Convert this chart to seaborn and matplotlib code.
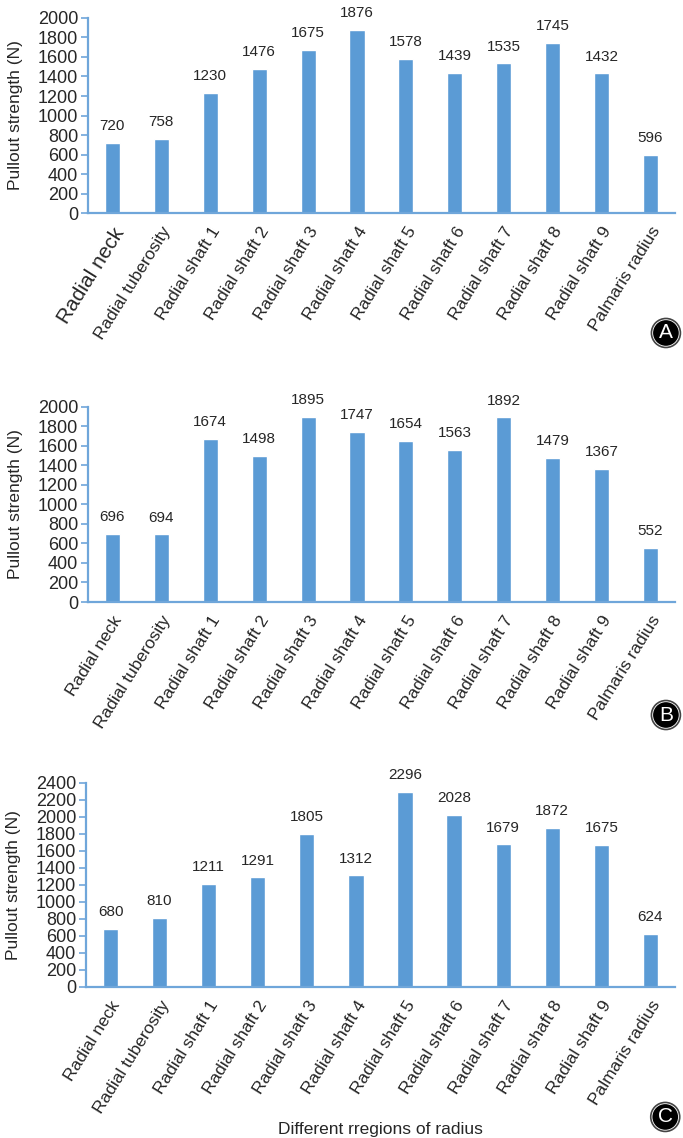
import matplotlib
matplotlib.use("Agg")
import matplotlib.pyplot as plt
import seaborn as sns
import pandas as pd

# ===== DATA =====
regions = ["Radial neck", "Radial tuberosity", "Radial shaft 1", "Radial shaft 2",
           "Radial shaft 3", "Radial shaft 4", "Radial shaft 5", "Radial shaft 6",
           "Radial shaft 7", "Radial shaft 8", "Radial shaft 9", "Palmaris radius"]
strength_a = [720, 758, 1230, 1476, 1675, 1876, 1578, 1439, 1535, 1745, 1432, 596]
strength_b = [696, 694, 1674, 1498, 1895, 1747, 1654, 1563, 1892, 1479, 1367, 552]
strength_c = [680, 810, 1211, 1291, 1805, 1312, 2296, 2028, 1679, 1872, 1675, 624]
panel_letters = ["A", "B", "C"]
y_max = [2000, 2000, 2400]

sns.set_theme(style="white")
plt.rcParams["font.family"] = ["Liberation Sans", "DejaVu Sans"]

bar_color = "#5b9bd5"
axis_color = "#6fa6da"

fig = plt.figure(figsize=(6.83, 11.38), dpi=100)

# axes positions in figure fraction (left, bottom, width, height)
positions = [
    (0.1288, 0.8128, 0.8594, 0.1714),
    (0.1288, 0.4710, 0.8594, 0.1714),
    (0.1259, 0.1327, 0.8623, 0.1793),
]
letter_pos = [(0.975, 0.7074), (0.975, 0.3717), (0.974, 0.0185)]

for i, vals in enumerate([strength_a, strength_b, strength_c]):
    df = pd.DataFrame({"region": regions, "strength": vals})
    ax = fig.add_axes(positions[i])
    sns.barplot(data=df, x="region", y="strength", color=bar_color,
                width=0.31, saturation=1, ax=ax)
    ax.bar_label(ax.containers[0], fmt="%d", padding=7, fontsize=11)

    ax.set_ylim(0, y_max[i])
    ax.set_yticks(range(0, y_max[i] + 1, 200))
    ax.set_xlim(-0.5, len(regions) - 0.5)
    ax.set_ylabel("Pullout strength (N)", fontsize=12.5, labelpad=11)
    ax.set_xlabel("")

    for s in ["top", "right"]:
        ax.spines[s].set_visible(False)
    for s in ["left", "bottom"]:
        ax.spines[s].set_color(axis_color)
        ax.spines[s].set_linewidth(1.6)

    ax.tick_params(axis="y", left=True, length=5, width=1.2, color=axis_color,
                   labelsize=13, pad=2)
    ax.tick_params(axis="x", bottom=False, labelsize=12.5, pad=2)
    plt.setp(ax.get_xticklabels(), rotation=58, ha="right",
             rotation_mode="anchor")
    if i == 0:
        ax.get_xticklabels()[0].set_fontsize(15)

    # circled panel letter
    lx, ly = letter_pos[i]
    fig.text(lx, ly, panel_letters[i], color="white", fontsize=15,
             ha="center", va="center",
             bbox=dict(boxstyle="circle,pad=0.24", fc="white", ec="#444444", lw=1.2))
    fig.text(lx, ly, panel_letters[i], color="white", fontsize=15,
             ha="center", va="center",
             bbox=dict(boxstyle="circle,pad=0.16", fc="black", ec="none"))

fig.axes[2].set_xlabel("Different rregions of radius", fontsize=12.5, labelpad=4)

fig.savefig("out.png", dpi=100)
